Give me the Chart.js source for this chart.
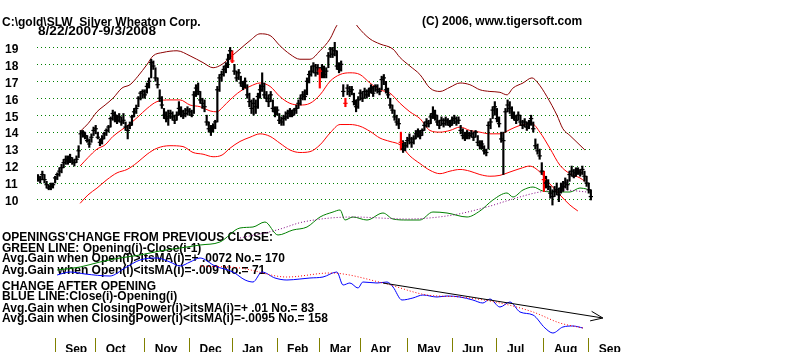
<!DOCTYPE html>
<html><head><meta charset="utf-8">
<script src="https://cdn.jsdelivr.net/npm/chart.js@4/dist/chart.umd.min.js"></script>
<style>html,body{margin:0;padding:0;background:#fff;}canvas{display:block;}</style>
</head><body>
<canvas id="c" width="800" height="352"></canvas>
<script>
// ---- daily bars (trading-day index 0 = 8/22/2007) ----
const closes = [
11.3,11.2,11.5,11.2,10.9,10.7,10.8,10.9,11.3,11.5,
11.7,11.9,12.2,12.4,12.3,12.5,12.3,12.2,12.4,12.9,
13.9,14.0,13.8,13.5,13.3,13.7,14.1,14.2,13.7,13.4,
13.6,13.9,14.1,14.3,14.8,15.1,15.0,14.7,14.9,14.6,
14.7,14.3,14.1,14.4,14.9,15.2,15.4,16.0,16.3,16.4,
16.2,16.7,17.0,18.1,17.9,17.2,16.8,16.0,15.6,15.0,
14.8,14.9,15.1,14.9,14.7,15.0,15.4,15.2,15.0,15.1,
15.3,15.2,15.0,16.2,16.6,16.4,15.9,15.7,15.5,14.6,
14.2,14.1,14.3,14.6,16.5,17.2,17.4,17.7,17.9,18.3,
18.8,18.2,17.6,17.2,17.5,16.9,16.7,17.0,16.2,15.8,
15.4,15.7,15.5,16.1,16.5,16.7,16.2,16.0,15.8,16.2,
15.4,15.2,15.3,14.7,14.6,14.8,14.9,15.1,15.2,15.0,
15.3,15.4,15.7,16.0,16.2,16.1,17.0,17.4,17.6,17.9,
17.5,17.8,17.6,17.8,17.4,17.6,18.5,18.9,18.6,18.8,
17.9,17.7,18.0,16.4,15.7,16.6,16.4,16.5,15.8,15.5,
15.9,16.3,16.0,16.4,16.2,16.4,16.6,16.3,16.7,16.5,
16.4,17.1,17.2,16.5,16.2,15.6,15.3,14.9,14.6,14.5,
13.4,13.0,13.2,13.5,13.6,13.4,13.6,13.9,14.0,13.8,
14.1,14.4,14.6,14.5,14.9,15.1,15.0,14.6,14.4,14.7,
14.5,14.7,14.6,14.4,14.7,14.8,14.6,14.7,14.1,13.8,
13.7,13.9,13.8,13.9,13.7,14.0,13.4,13.2,13.3,12.9,
12.8,14.4,14.6,15.3,15.5,14.8,14.5,13.6,13.5,15.2,
15.6,15.4,15.0,14.9,14.7,15.0,14.6,14.4,14.6,14.3,
14.5,14.8,14.2,13.2,12.9,12.6,11.7,11.2,11.0,10.8,
10.4,10.2,10.5,10.6,10.3,10.7,10.8,11.0,10.9,11.5,
11.7,11.4,11.6,11.7,11.6,11.8,11.4,11.0,10.6,10.2];
const highs = [
11.5,11.4,11.7,11.5,11.1,10.9,11.0,11.0,11.4,11.6,
11.9,12.1,12.4,12.6,12.6,12.7,12.5,12.4,12.6,13.2,
14.1,14.1,14.0,13.8,13.6,13.9,14.3,14.4,14.0,13.6,
13.8,14.0,14.2,14.4,14.9,15.3,15.2,15.0,15.1,14.9,
15.1,14.6,14.4,14.6,15.0,15.4,15.6,16.1,16.4,16.5,
16.5,16.9,17.2,18.3,18.2,17.8,17.2,16.5,16.1,15.4,
15.2,15.3,15.3,15.2,15.0,15.2,15.8,15.5,15.3,15.4,
15.5,15.4,15.3,16.4,16.8,16.9,16.4,16.0,15.9,15.0,
14.6,14.4,14.5,14.7,16.7,17.4,17.6,17.9,18.1,18.6,
19.0,18.8,18.0,17.6,17.7,17.3,17.0,17.2,16.8,16.3,
15.9,16.0,15.9,16.3,16.8,17.5,16.9,16.4,16.2,16.4,
15.9,15.5,15.5,15.1,14.9,15.0,15.2,15.3,15.4,15.3,
15.4,15.6,15.9,16.2,16.4,16.5,17.2,17.6,17.9,18.1,
18.0,18.0,17.8,18.0,17.9,17.8,18.7,19.0,19.0,19.3,
18.8,18.1,18.2,16.8,16.0,16.8,16.7,16.7,16.3,15.9,
16.1,16.5,16.4,16.6,16.5,16.6,16.8,16.7,16.8,16.8,
16.6,17.3,17.4,17.0,16.6,16.0,15.6,15.3,15.0,14.8,
14.0,13.5,13.4,13.7,13.9,13.7,13.8,14.1,14.2,14.1,
14.2,14.6,14.8,14.7,15.1,15.5,15.3,15.0,14.7,14.9,
14.8,14.9,14.8,14.7,14.9,15.0,14.9,14.9,14.4,14.2,
14.0,14.1,14.0,14.1,14.0,14.1,13.8,13.5,13.5,13.2,
13.0,14.6,14.8,15.5,15.8,15.4,14.9,14.0,14.0,15.4,
15.9,15.8,15.5,15.2,15.0,15.2,15.0,14.7,14.8,14.6,
14.7,15.0,14.6,13.6,13.3,13.0,12.2,11.7,11.4,11.2,
10.8,10.6,10.8,11.0,10.7,11.0,11.1,11.3,11.2,11.7,
12.0,11.8,11.9,11.9,11.8,12.0,11.7,11.4,11.0,10.6];
const lows = [
11.1,11.0,11.2,11.0,10.7,10.6,10.6,10.7,11.0,11.2,
11.4,11.6,11.9,12.1,12.1,12.2,12.1,12.0,12.2,12.5,
13.3,13.7,13.6,13.4,13.1,13.4,13.8,13.9,13.6,13.2,
13.3,13.6,13.8,14.0,14.3,14.7,14.6,14.5,14.6,14.4,
14.5,14.1,13.6,14.2,14.4,14.9,15.1,15.5,15.9,16.0,
16.0,16.3,16.6,17.2,17.7,17.0,16.6,15.8,15.4,14.8,
14.6,14.4,14.8,14.7,14.5,14.7,15.0,14.9,14.8,14.9,
15.0,15.0,14.9,15.1,16.1,16.2,15.7,15.4,15.2,14.4,
14.0,13.8,14.0,14.2,14.6,16.4,17.0,17.3,17.5,17.8,
18.3,18.1,17.4,17.0,17.1,16.7,16.5,16.6,16.0,15.5,
15.1,15.0,15.1,15.4,16.0,16.4,16.0,15.8,15.5,15.8,
15.2,14.9,15.0,14.5,14.4,14.4,14.7,14.8,14.9,14.9,
15.0,15.1,15.4,15.6,15.9,15.9,16.2,16.9,17.3,17.5,
17.3,17.4,16.6,17.2,17.2,17.2,17.8,18.4,18.4,18.5,
17.7,17.5,17.6,16.1,15.5,16.2,16.1,16.2,15.6,15.2,
15.4,15.9,15.8,16.0,16.0,16.1,16.3,16.1,16.4,16.3,
16.2,16.5,16.8,16.3,16.0,15.4,15.1,14.7,14.4,14.2,
12.95,12.8,12.9,13.1,13.3,13.1,13.3,13.6,13.7,13.6,
13.8,14.1,14.3,14.3,14.5,14.8,14.7,14.4,14.2,14.4,
14.3,14.4,14.4,14.3,14.4,14.5,14.4,14.5,13.9,13.6,
13.5,13.6,13.6,13.7,13.5,13.7,13.2,13.0,13.0,12.7,
12.6,13.0,14.2,14.8,15.0,14.6,14.3,13.4,11.5,14.0,
15.2,15.1,14.8,14.7,14.5,14.7,14.4,14.2,14.3,14.1,
14.2,14.4,14.0,13.0,12.7,12.4,11.5,10.5,10.7,10.6,
10.1,9.7,10.2,10.3,9.9,10.4,10.5,10.7,10.6,11.1,
11.4,11.3,11.4,11.5,11.4,11.5,11.1,10.8,10.4,10.0];
const redBars = [91,132,144,170,237];

// ---- bands (read at sampled trading-day indices) ----
const upperIdx = [19.7,23.4,27.6,31.4,35.1,39.3,43.1,46.8,51.1,53.9,58.5,65.1,71.2,77.3,82.0,86.2,89.9,94.6,99.3,104.0,108.7,113.3,118.0,122.7,127.4,132.1,136.8,140.0,143.8,147.0,149.9,155.5,160.2,166.3,169.6,174.2,178.9,183.6,188.3,193.0,197.7,202.3,207.0,211.7,216.4,219.7,222.5,227.2,231.4,234.2,238.4,243.1,245.9,249.2,252.5,256.2];
const upperVal = [14.04,14.5,15.2,15.6,16.0,16.6,16.8,17.3,18.0,18.5,18.7,18.8,18.5,18.1,17.8,18.0,18.4,18.9,19.4,19.8,19.7,19.1,18.6,18.3,18.3,18.8,19.5,20.3,20.8,20.7,20.2,19.5,19.2,18.9,18.4,17.9,17.4,16.6,16.4,16.65,16.9,16.8,16.5,16.4,16.35,16.2,16.6,16.9,17.2,16.9,16.1,15.0,14.2,13.8,13.4,12.95];
const midIdx = [19.7,23.4,27.6,31.4,35.1,39.3,43.1,46.8,51.1,55.7,61.8,66.5,71.2,75.9,80.6,83.8,86.7,89.9,94.6,99.3,104.0,108.7,113.3,118.0,122.7,127.4,132.1,136.8,141.5,146.1,150.8,155.5,160.2,164.9,169.6,174.2,178.9,183.6,188.3,193.0,197.7,202.3,207.0,211.7,216.4,221.1,225.8,231.4,235.1,239.8,244.5,249.2,253.9,256.2];
const midVal = [12.0,12.5,13.0,13.25,13.75,14.15,14.5,14.9,15.4,15.8,15.9,15.9,15.6,15.5,15.25,15.2,15.5,15.9,16.4,16.7,16.9,16.7,16.1,15.7,15.6,15.7,16.2,17.0,17.4,17.5,17.4,16.9,16.5,16.3,15.7,15.2,14.8,14.1,14.0,14.1,14.3,14.1,14.0,13.9,13.9,14.15,14.4,14.5,14.0,13.05,12.05,11.55,11.3,11.1];
const lowerIdx = [19.7,23.4,27.6,32.3,37.0,41.7,46.4,51.1,55.7,61.8,67.9,72.6,77.3,82.0,86.2,89.9,94.6,99.3,104.0,108.7,113.3,118.0,122.7,127.4,132.1,136.8,141.5,146.1,150.8,155.5,160.2,164.9,169.6,174.2,178.9,183.6,188.3,193.0,197.7,202.3,207.0,211.7,216.4,221.1,225.8,230.4,235.1,239.8,244.5,249.2,252.9];
const lowerVal = [9.8,10.3,10.7,11.2,11.6,11.8,12.2,12.7,13.05,13.2,13.15,12.8,12.7,12.55,12.65,13.05,13.45,13.7,13.9,13.75,13.35,12.95,12.8,12.85,13.25,13.95,14.45,14.45,14.35,14.05,13.65,13.45,13.25,12.6,12.15,11.75,11.55,11.7,11.8,11.7,11.5,11.4,11.45,11.65,11.85,12.0,11.65,10.95,10.3,9.7,9.35];

// ---- cumulative opening change (green) and its MA (purple) ----
const greenIdx = [8.9,19.7,29.0,38.4,47.8,57.1,66.5,75.9,85.2,94.6,100.7,106.3,112.4,119.4,126.0,132.1,138.2,141.5,143.8,147.5,154.1,161.6,166.3,172.8,178.9,185.0,191.6,201.0,207.0,213.1,219.7,222.5,227.2,231.9,236.5,243.1,249.2,253.9,257.1];
const greenVal = [-2.0,-1.7,-1.2,-0.8,-0.5,-0.1,0.2,0.5,0.8,2.2,2.3,2.8,1.5,2.0,2.3,3.3,3.8,4.0,3.0,3.3,3.0,3.7,3.1,3.0,3.0,3.8,3.7,3.3,3.9,5.0,5.7,5.3,6.0,6.3,5.9,5.8,5.8,6.2,6.1];
const greenMaIdx = [94.6,111.9,124.1,147.5,172.8,194.4,210.3,222.5,235.1,245.9,257.1];
const greenMaVal = [1.2,2.0,2.8,3.3,3.1,3.5,4.3,5.1,5.8,6.0,5.8];

// ---- cumulative change after opening (blue) and its MA (red dotted) ----
const blueIdx = [8.9,15.0,22.0,33.7,40.7,47.8,55.7,61.8,66.5,71.2,75.9,82.9,91.3,97.0,100.7,104.9,111.0,116.6,122.7,127.4,133.5,140.0,142.9,146.1,149.9,152.2,158.8,163.5,166.3,170.5,175.6,180.3,186.9,191.6,197.7,203.7,208.4,211.7,216.4,221.1,225.8,231.9,237.5,241.2,245.9,250.6,255.3];
const blueVal = [-2.5,-2.2,-2.4,-2.6,-1.8,-1.0,-0.8,-1.2,-1.6,-1.2,-0.8,-1.6,-2.2,-3.0,-3.2,-2.2,-2.8,-3.0,-2.9,-2.8,-2.7,-2.2,-3.5,-3.3,-3.8,-3.2,-3.3,-3.2,-3.7,-5.0,-4.8,-4.5,-4.7,-4.6,-4.7,-5.0,-5.3,-4.9,-5.7,-5.2,-6.2,-6.5,-7.8,-8.3,-7.7,-7.6,-7.8];
const blueMaIdx = [75.9,94.6,116.6,136.8,161.6,182.2,197.7,216.4,231.9,244.5,255.3];
const blueMaVal = [-1.6,-1.8,-2.7,-2.3,-3.3,-4.5,-4.7,-5.3,-6.2,-7.3,-7.8];
const trendIdx = [161.6,264.6];
const trendVal = [-3.3,-6.8];

// ---- axes ----
const priceTicks = [10,11,12,13,14,15,16,17,18,19];
const monthStarts = [8,27,50,71,91,112,132,151,173,194,215,237,258];
const monthLabels = ['Sep','Oct','Nov','Dec','Jan','Feb','Mar','Apr','May','Jun','Jul','Aug','Sep'];

const titleText = 'C:\\gold\\SLW  Silver Wheaton Corp.';
const dateText = '8/22/2007-9/3/2008';
const copyText = '(C) 2006, www.tigersoft.com';
const notes = [
 'OPENINGS\'CHANGE FROM PREVIOUS CLOSE:',
 'GREEN LINE: Opening(i)-Close(i-1)',
 'Avg.Gain when Open(i)>itsMA(i)=+ .0072 No.= 170',
 'Avg.Gain when Open(i)<itsMA(i)=-.009 No.= 71',
 'CHANGE AFTER OPENING',
 'BLUE LINE:Close(i)-Opening(i)',
 'Avg.Gain when ClosingPower(i)>itsMA(i)=+ .01 No.= 83',
 'Avg.Gain when ClosingPower(i)<itsMA(i)=-.0095 No.= 158'
];

const FAM = '"Liberation Sans", Arial, sans-serif';
const pts = (xs, ys) => xs.map((x, k) => ({x, y: ys[k]}));

const textPlugin = {
  id: 'texts',
  beforeDatasetsDraw(chart) {
    const ctx = chart.ctx;
    ctx.save();
    ctx.fillStyle = '#000';
    ctx.font = 'bold 12px ' + FAM;
    ctx.textAlign = 'left';
    ctx.textBaseline = 'alphabetic';
    ctx.fillText(titleText, 2, 25.5);
    ctx.save();
    const w = ctx.measureText(dateText).width;
    ctx.translate(38, 34.5); ctx.scale(118 / w, 1);
    ctx.fillText(dateText, 0, 0);
    ctx.restore();
    ctx.fillText(copyText, 422, 24.5);
    const ys = [241, 252, 262, 273.5, 289.5, 300, 312, 322];
    notes.forEach((t, k) => ctx.fillText(t, 2, ys[k]));
    ctx.restore();
  },
  afterDatasetsDraw(chart) {
    const idx = chart.data.datasets.findIndex(d => d.label === 'trend');
    const meta = chart.getDatasetMeta(idx);
    const a = meta.data[0], b = meta.data[meta.data.length - 1];
    const ang = Math.atan2(b.y - a.y, b.x - a.x);
    const ctx = chart.ctx;
    ctx.save();
    ctx.strokeStyle = '#000'; ctx.lineWidth = 1;
    ctx.beginPath();
    for (const s of [-1, 1]) {
      ctx.moveTo(b.x, b.y);
      ctx.lineTo(b.x - 13 * Math.cos(ang + s * 0.38), b.y - 13 * Math.sin(ang + s * 0.38));
    }
    ctx.stroke();
    ctx.restore();
  }
};

const lineDs = (label, data, color, axis, extra) => Object.assign({
  type: 'line', label, data, yAxisID: axis, borderColor: color, borderWidth: 1,
  pointRadius: 0, fill: false, tension: 0.35, cubicInterpolationMode: 'monotone'
}, extra || {});

new Chart(document.getElementById('c'), {
  type: 'line',
  data: {
    datasets: [
      { type: 'line', label: 'close', data: pts(closes.map((c, i) => i), closes), yAxisID: 'y',
        showLine: false, pointStyle: 'line', pointRadius: 2.2, pointBorderWidth: 1.2,
        pointBorderColor: closes.map((c, i) => redBars.includes(i) ? '#ff0000' : '#000') },
      { type: 'bar', label: 'range', data: closes.map((c, i) => ({x: i, y: [lows[i], highs[i]]})), yAxisID: 'y',
        backgroundColor: closes.map((c, i) => redBars.includes(i) ? '#ff0000' : '#000'),
        barThickness: 1.5, borderWidth: 0 },
      lineDs('trend', pts(trendIdx, trendVal), '#000', 'yo', {tension: 0, clip: false}),
      lineDs('upper', pts(upperIdx, upperVal), '#8c0000', 'y'),
      lineDs('mid', pts(midIdx, midVal), '#ff0000', 'y'),
      lineDs('lower', pts(lowerIdx, lowerVal), '#ff0000', 'y'),
      lineDs('greenMA', pts(greenMaIdx, greenMaVal), '#800080', 'yo', {borderDash: [1, 2]}),
      lineDs('blueMA', pts(blueMaIdx, blueMaVal), '#ff0000', 'yo', {borderDash: [1, 2]}),
      lineDs('green', pts(greenIdx, greenVal), '#008000', 'yo', {tension: 0}),
      lineDs('blue', pts(blueIdx, blueVal), '#0000ff', 'yo', {tension: 0})
    ]
  },
  options: {
    responsive: false, animation: false, devicePixelRatio: 1,
    layout: {padding: {top: 25, right: 207, left: 5, bottom: 0}},
    plugins: {legend: {display: false}, tooltip: {enabled: false}, title: {display: false}},
    scales: {
      x: {
        type: 'linear', min: -0.5, max: 260, position: 'bottom', offset: false,
        afterBuildTicks: s => { s.ticks = monthStarts.map(v => ({value: v})); },
        afterFit: s => { s.height = 14; },
        grid: {drawOnChartArea: false, drawTicks: true, tickLength: 14, tickColor: '#808000', tickWidth: 1, offset: false},
        border: {display: false},
        ticks: {autoSkip: false, maxRotation: 0, minRotation: 0, align: 'start', labelOffset: 10, padding: -10,
          color: '#000', font: {family: FAM, size: 12, weight: 'bold'},
          callback: (v, k) => monthLabels[k]}
      },
      y: {
        type: 'linear', position: 'left', min: 1.858, max: 20.32,
        afterBuildTicks: s => { s.ticks = priceTicks.map(v => ({value: v})); },
        afterFit: s => { s.width = 32; },
        grid: {color: '#008000', lineWidth: 1, drawTicks: false},
        border: {display: false, dash: [1, 3]},
        ticks: {padding: 0, crossAlign: 'far', labelOffset: 2, color: '#000', font: {family: FAM, size: 12, weight: 'bold'},
          callback: v => String(v)}
      },
      yo: {type: 'linear', display: false, min: -8.8, max: 22.5}
    }
  },
  plugins: [textPlugin]
});
</script>
</body></html>
